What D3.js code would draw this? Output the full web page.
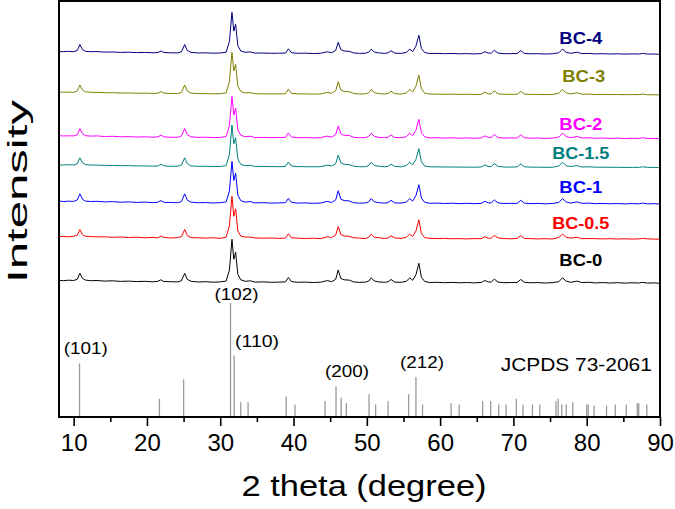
<!DOCTYPE html>
<html><head><meta charset="utf-8">
<script src="https://cdn.jsdelivr.net/npm/d3@7"></script>
<style>
body{margin:0;background:#fff}
svg{display:block}
text{font-family:Arial,"Liberation Sans",sans-serif}
</style>
</head><body>
<svg id="chart" width="675" height="509"></svg>
<script>
// ---------------- data ----------------
const twoTheta = [8.0,8.6,9.3,10.0,10.5,10.85,11.2,11.6,12.3,13.2,
14.2,15.3,16.4,17.5,18.6,19.7,20.8,21.5,21.9,22.3,
23.2,24.2,24.7,25.15,25.5,26.0,27.0,28.0,29.0,30.0,
30.8,31.25,31.6,31.85,32.1,32.4,32.8,33.4,34.1,34.7,
35.8,37.0,38.1,38.9,39.3,39.7,40.5,41.6,42.7,43.7,
44.6,45.2,45.75,46.1,46.45,46.9,47.6,48.2,49.0,49.8,
50.25,50.6,51.0,51.6,52.4,52.9,53.3,53.8,54.7,55.4,
55.85,56.25,56.7,57.1,57.45,57.9,58.6,59.6,60.6,61.6,
62.6,63.6,64.6,65.6,66.1,66.6,67.0,67.4,67.9,68.7,
69.7,70.5,71.0,71.5,72.3,73.3,74.3,75.3,76.2,76.7,
77.2,77.8,78.7,79.3,80.3,81.2,82.2,83.2,84.2,85.2,
86.2,87.2,87.6,88.3,89.2,90.0];

const seriesNames  = ["BC-0","BC-0.5","BC-1","BC-1.5","BC-2","BC-3","BC-4"];
const seriesColors = ["#000000","#ff0000","#0000ff","#008080","#ff00ff","#808000","#000080"];
const seriesOffsets = [1337,1777,2130,2493,2783,3220,3627];   // stacking offsets (counts)
const labelTheta  = [79.2,79.2,79.2,79.2,79.2,79.6,79.2];
const labelLevel  = [1513,1880,2237,2580,2870,3347,3730];

const bc0 = [30,26,31,28,40,100,50,32,26,28,
22,25,19,22,17,20,15,20,35,18,
16,14,25,100,40,20,13,16,11,14,
22,130,440,240,310,90,35,20,25,12,
14,10,12,14,58,18,10,12,8,11,
27,16,40,133,50,35,32,14,9,12,
22,55,24,14,10,15,38,12,10,20,
55,30,85,200,60,18,8,10,6,9,
5,8,4,8,28,12,14,42,12,6,
8,7,38,10,5,7,3,6,16,55,
22,10,22,8,10,4,7,3,6,2,
5,3,10,2,4,0];
const bc05 = [27,29,25,30,42,98,46,30,28,24,
25,20,23,18,21,15,19,14,33,20,
13,17,27,98,38,17,15,12,15,10,
20,135,430,230,305,85,32,22,23,14,
11,13,9,12,55,16,12,8,11,7,
25,18,42,128,48,33,30,16,11,8,
20,52,22,16,8,13,35,14,8,22,
52,28,82,195,58,16,10,7,9,5,
7,4,7,6,26,10,12,40,14,8,
5,9,36,8,7,4,6,3,18,52,
20,12,20,6,8,6,4,6,3,5,
2,5,9,4,2,1];
const bc1 = [29,25,28,26,41,102,48,29,25,27,
21,24,18,21,16,19,14,18,34,17,
15,13,24,102,39,19,12,15,10,13,
21,128,425,235,308,88,34,19,24,11,
13,9,11,13,56,17,9,11,7,10,
26,15,41,133,49,34,31,13,8,11,
21,54,23,13,9,14,37,11,9,19,
53,29,84,193,59,17,7,9,5,8,
4,7,3,7,27,11,13,41,11,5,
7,6,37,9,4,6,2,5,15,54,
21,9,21,7,9,3,6,2,5,1,
4,2,9,1,3,0];
const bc15 = [28,27,30,27,39,99,49,31,27,26,
23,22,20,21,18,18,16,17,34,19,
14,15,26,99,41,18,14,14,12,12,
21,132,427,238,300,87,33,21,24,13,
12,11,10,13,57,17,11,10,9,10,
26,17,40,127,49,34,31,15,10,10,
21,54,23,15,9,14,36,13,9,21,
54,29,83,190,59,17,9,8,7,7,
6,6,5,7,27,11,13,41,13,7,
6,8,37,9,6,5,4,4,17,54,
21,11,21,7,9,5,5,4,4,3,
3,4,9,3,3,0];
const bc2 = [31,27,29,28,40,101,49,30,26,28,
22,24,19,21,17,19,15,19,35,18,
15,14,26,101,40,19,13,15,11,13,
22,131,423,236,307,89,34,20,25,12,
13,10,12,13,57,18,10,11,8,11,
26,16,41,127,50,34,32,14,9,11,
22,55,24,14,10,15,37,12,10,20,
55,30,84,194,60,18,8,10,6,9,
5,8,4,8,28,12,14,42,12,6,
8,7,38,10,5,7,3,6,16,55,
22,10,22,8,10,4,7,3,6,2,
5,3,10,2,4,0];
const bc3 = [30,28,29,27,41,100,50,31,27,26,
23,23,20,20,18,18,16,18,34,19,
14,15,25,100,41,18,14,14,12,13,
21,133,427,240,307,90,35,21,24,13,
12,11,11,13,58,17,11,11,9,10,
27,17,42,133,51,35,32,15,10,11,
22,56,24,15,9,15,38,13,9,21,
56,30,86,200,61,18,9,9,7,8,
6,7,5,7,28,11,13,42,12,7,
7,7,38,9,6,6,4,5,17,56,
22,11,22,8,9,5,6,4,5,3,
4,4,10,2,3,0];
const bc4 = [28,26,30,26,38,98,47,30,26,27,
22,23,19,21,17,19,15,18,33,18,
15,14,24,98,39,19,13,15,11,13,
21,127,420,232,300,86,33,20,24,12,
13,10,11,12,55,17,10,11,8,10,
25,16,39,120,47,33,30,14,9,11,
21,52,23,14,9,14,36,12,9,19,
52,28,82,190,57,17,8,9,6,8,
5,7,4,7,26,11,13,40,12,6,
7,7,36,9,5,6,3,5,15,52,
20,10,21,7,9,4,6,3,5,2,
4,3,9,2,3,0];
const seriesValues = [bc0,bc05,bc1,bc15,bc2,bc3,bc4];

// JCPDS 73-2061 reference pattern (relative intensity, %)
const refTheta = [10.8,21.7,25.0,31.4,31.9,32.8,33.8,39.0,40.2,44.3,45.8,46.5,47.2,50.3,51.2,52.9,55.7,56.7,57.6,61.5,62.6,65.8,66.9,68.0,69.0,70.4,71.3,72.6,73.6,75.8,76.1,76.6,77.2,78.1,80.0,80.2,81.0,82.7,83.9,85.4,86.9,87.1,88.2];
const refIntensity = [47,16,33,100,54,13,13,18,11,14,27,17,12,20,11,14,20,35,11,12,11,14,14,11,11,16,11,11,11,14,16,11,11,13,11,11,10,10,11,11,12,12,11];
const hklLabels = ["(101)","(102)","(110)","(200)","(212)"];
const hklTheta  = [11.64,32.23,35.02,47.29,57.52];
const hklLevel  = [55.7,102.2,61.8,35.5,43.0];
const refName = "JCPDS 73-2061";

const xMajorTicks = [10,20,30,40,50,60,70,80,90];
const xMinorTicks = [15,25,35,45,55,65,75,85];
const xTitle = "2 theta (degree)";
const yTitle = "Intensity";

// ---------------- layout ----------------
const L = 59, R = 660, T = 1, B = 417;
const svg = d3.select("#chart");

const x = d3.scaleLinear().domain([8, 90]).range([L, R]);
const y = d3.scaleLinear().domain([0, 4160]).range([B, T]);
const yRef = d3.scaleLinear().domain([0, 100]).range([B, 303]);

svg.append("defs").append("clipPath").attr("id","clip")
  .append("rect").attr("x",L).attr("y",T).attr("width",R-L).attr("height",B-T);

const plot = svg.append("g").attr("clip-path","url(#clip)");

// reference sticks
plot.append("g").selectAll("line").data(refTheta).join("line")
  .attr("x1", d => x(d)).attr("x2", d => x(d))
  .attr("y1", yRef(0)).attr("y2", (d,i) => yRef(refIntensity[i]))
  .attr("stroke","#9a9a9a").attr("stroke-width",1.3);

// traces
seriesValues.forEach((vals, s) => {
  const line = d3.line()
    .x((d,i) => x(twoTheta[i]))
    .y(d => y(seriesOffsets[s] + d));
  plot.append("path").datum(vals)
    .attr("d", line)
    .attr("fill","none")
    .attr("stroke", seriesColors[s])
    .attr("stroke-width",1)
    .attr("stroke-linejoin","round");
});

// series labels
const labW = n => n.length > 4 ? 57 : 43;
svg.append("g").selectAll("text").data(seriesNames).join("text")
  .attr("x", (d,i) => x(labelTheta[i]))
  .attr("y", (d,i) => y(labelLevel[i]))
  .attr("text-anchor","middle")
  .attr("font-size",17).attr("font-weight","bold")
  .attr("fill",(d,i)=>seriesColors[i])
  .attr("textLength", d => labW(d)).attr("lengthAdjust","spacingAndGlyphs")
  .text(d => d);

// hkl labels
svg.append("g").selectAll("text").data(hklLabels).join("text")
  .attr("x", (d,i) => x(hklTheta[i]))
  .attr("y", (d,i) => yRef(hklLevel[i]))
  .attr("text-anchor","middle")
  .attr("font-size",17).attr("fill","#000")
  .attr("textLength",44).attr("lengthAdjust","spacingAndGlyphs")
  .text(d => d);

svg.append("text")
  .attr("x", x(88.88)).attr("y", yRef(40.6))
  .attr("text-anchor","end").attr("font-size",18)
  .attr("textLength",151).attr("lengthAdjust","spacingAndGlyphs")
  .text(refName);

// axes
const ax = svg.append("g").attr("transform",`translate(0,${B})`)
  .call(d3.axisBottom(x).tickValues(xMajorTicks).tickSize(9).tickPadding(8).tickFormat(d3.format("d")));
ax.select(".domain").remove();
ax.selectAll(".tick line").attr("stroke","#000").attr("stroke-width",1.6);
ax.selectAll(".tick text").attr("font-size",24).attr("fill","#000")
  .style("font-family",'Arial,"Liberation Sans",sans-serif');

const axm = svg.append("g").attr("transform",`translate(0,${B})`)
  .call(d3.axisBottom(x).tickValues(xMinorTicks).tickSize(5).tickFormat(""));
axm.select(".domain").remove();
axm.selectAll(".tick line").attr("stroke","#000").attr("stroke-width",1.6);

// frame
svg.append("rect").attr("x",L).attr("y",T).attr("width",R-L).attr("height",B-T)
  .attr("fill","none").attr("stroke","#000").attr("stroke-width",2);

// titles
svg.append("text").attr("x",364).attr("y",496).attr("text-anchor","middle")
  .attr("font-size",29).attr("textLength",245).attr("lengthAdjust","spacingAndGlyphs")
  .text(xTitle);
svg.append("text").attr("transform","translate(27,191.5) rotate(-90)")
  .attr("text-anchor","middle").attr("font-size",28)
  .attr("textLength",183).attr("lengthAdjust","spacingAndGlyphs")
  .text(yTitle);
</script>
</body></html>
